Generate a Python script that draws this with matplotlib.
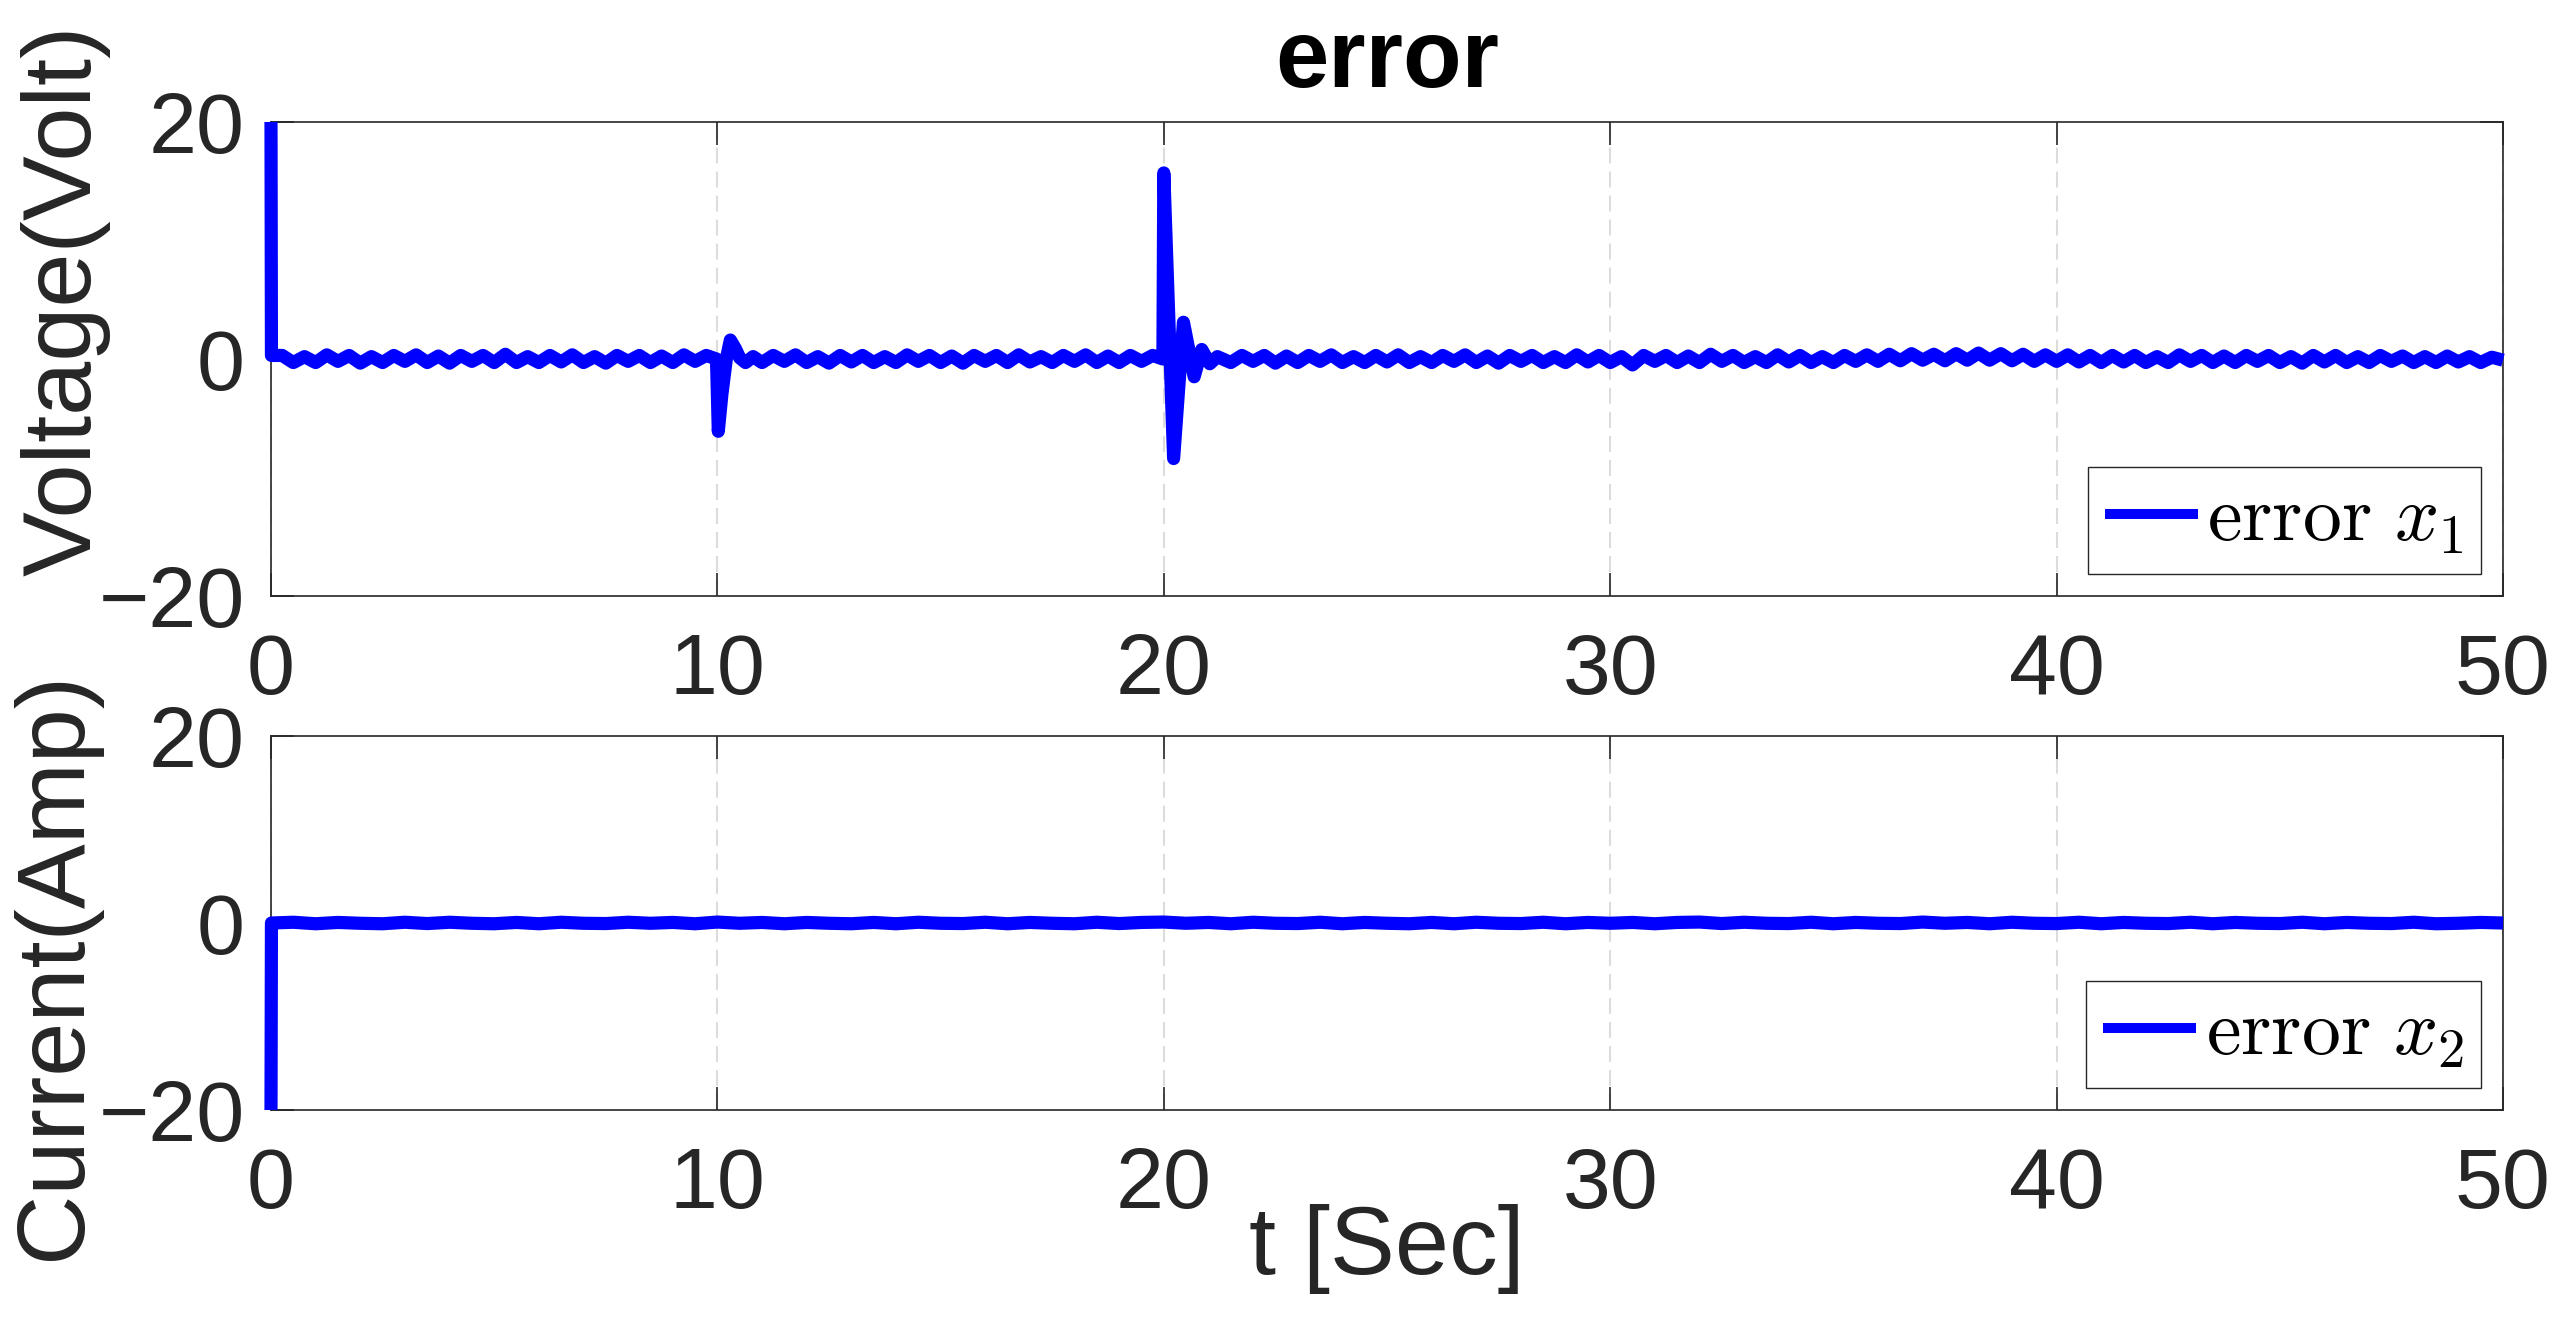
import matplotlib
matplotlib.use("Agg")
import matplotlib.pyplot as plt
import numpy as np

plt.rcParams['font.family'] = ['Liberation Sans', 'DejaVu Sans']
plt.rcParams['mathtext.fontset'] = 'cm'
plt.rcParams['lines.scale_dashes'] = False

# ---------------- data ----------------
# error x1: start transient, baseline noise and the two disturbance spikes
t_start = [0.0, 0.01]
x1_start = [20.0, 0.3]

t_base_a = np.arange(0.25, 9.76, 0.25)          # sample instants 0.25 .. 9.75
x1_base_a = [0.3, -0.3, 0.2, -0.3, 0.35, -0.2, 0.3, -0.35, 0.2, -0.3,
             0.3, -0.2, 0.35, -0.3, 0.25, -0.35, 0.3, -0.2, 0.3, -0.3,
             0.4, -0.3, 0.2, -0.3, 0.3, -0.25, 0.35, -0.3, 0.2, -0.35,
             0.3, -0.2, 0.3, -0.3, 0.25, -0.3, 0.35, -0.2, 0.3]

t_spike10 = [9.98, 10.02, 10.1, 10.2, 10.29, 10.4, 10.5, 10.63, 10.8]
x1_spike10 = [0.0, -6.1, -3.0, 0.0, 1.6, 0.9, 0.1, -0.3, 0.2]

t_base_b = np.arange(11.0, 19.76, 0.25)         # 11.0 .. 19.75
x1_base_b = [-0.3, 0.3, -0.2, 0.35, -0.3, 0.2, -0.35, 0.3, -0.25, 0.3,
             -0.3, 0.2, -0.3, 0.35, -0.2, 0.3, -0.3, 0.25, -0.35, 0.3,
             -0.2, 0.3, -0.3, 0.35, -0.25, 0.2, -0.3, 0.3, -0.2, 0.35,
             -0.3, 0.25, -0.3, 0.3, -0.2, 0.3]

t_spike20 = [19.98, 20.0, 20.22, 20.44, 20.68, 20.85, 21.03, 21.2]
x1_spike20 = [0.0, 15.7, -8.4, 3.1, -1.5, 0.8, -0.4, 0.2]

t_base_c = np.arange(21.5, 50.01, 0.25)         # 21.5 .. 50.0
x1_base_c = [-0.3, 0.3, -0.2, 0.3, -0.35, 0.25, -0.3, 0.3, -0.2, 0.35,
             -0.3, 0.2, -0.3, 0.3, -0.25, 0.35, -0.3, 0.2, -0.3, 0.3,
             -0.2, 0.35, -0.3, 0.25, -0.35, 0.3, -0.2, 0.3, -0.3, 0.2,
             -0.3, 0.35, -0.25, 0.3, -0.3, 0.2, -0.5, 0.3, -0.2, 0.3,
             -0.3, 0.25, -0.3, 0.4, -0.2, 0.3, -0.3, 0.2, -0.3, 0.35,
             -0.25, 0.3, -0.3, 0.2, -0.3, 0.3, -0.2, 0.35, -0.2, 0.4,
             -0.15, 0.45, -0.1, 0.4, -0.15, 0.45, -0.1, 0.5, -0.1, 0.45,
             -0.15, 0.4, -0.2, 0.35, -0.2, 0.35, -0.25, 0.3, -0.3, 0.3,
             -0.25, 0.3, -0.3, 0.2, -0.3, 0.35, -0.2, 0.3, -0.3, 0.25,
             -0.3, 0.3, -0.2, 0.3, -0.3, 0.2, -0.35, 0.3, -0.25, 0.3,
             -0.3, 0.2, -0.3, 0.3, -0.2, 0.25, -0.3, 0.2, -0.3, 0.25,
             -0.25, 0.2, -0.3, 0.15, -0.1]

# error x2: start transient then nearly zero
t_x2 = [0, 0.01, 0.5, 1.0, 1.5, 2.0, 2.5, 3.0, 3.5, 4.0, 4.5, 5.0, 5.5, 6.0, 6.5,
        7.0, 7.5, 8.0, 8.5, 9.0, 9.5, 10.0, 10.5, 11.0, 11.5, 12.0, 12.5, 13.0,
        13.5, 14.0, 14.5, 15.0, 15.5, 16.0, 16.5, 17.0, 17.5, 18.0, 18.5, 19.0,
        19.5, 20.0, 20.5, 21.0, 21.5, 22.0, 22.5, 23.0, 23.5, 24.0, 24.5, 25.0,
        25.5, 26.0, 26.5, 27.0, 27.5, 28.0, 28.5, 29.0, 29.5, 30.0, 30.5, 31.0,
        31.5, 32.0, 32.5, 33.0, 33.5, 34.0, 34.5, 35.0, 35.5, 36.0, 36.5, 37.0,
        37.5, 38.0, 38.5, 39.0, 39.5, 40.0, 40.5, 41.0, 41.5, 42.0, 42.5, 43.0,
        43.5, 44.0, 44.5, 45.0, 45.5, 46.0, 46.5, 47.0, 47.5, 48.0, 48.5, 49.0,
        49.5, 50.0]
x2_err = [-20.0, 0.0, 0.08, -0.08, 0.06, -0.03, -0.08, 0.08, -0.06, 0.08, -0.03, -0.08, 0.06, -0.08, 0.08,
          -0.03, -0.06, 0.08, -0.03, 0.06, -0.08, 0.1, -0.03, 0.06, -0.08, 0.06, -0.03, -0.08,
          0.06, -0.08, 0.08, -0.03, -0.06, 0.08, -0.08, 0.06, -0.03, -0.08, 0.08, -0.06,
          0.06, 0.1, -0.03, 0.06, -0.08, 0.08, -0.03, -0.06, 0.08, -0.08, 0.06, -0.03,
          -0.08, 0.06, -0.08, 0.08, -0.03, -0.06, 0.08, -0.08, 0.06, -0.03, 0.06, -0.08,
          0.06, 0.1, -0.06, 0.08, -0.03, -0.06, 0.08, -0.08, 0.06, -0.03, -0.06, 0.1,
          -0.03, 0.06, -0.08, 0.08, -0.03, -0.06, 0.08, -0.08, 0.06, -0.03, -0.06, 0.08,
          -0.08, 0.06, -0.03, -0.06, 0.08, -0.08, 0.06, -0.03, -0.06, 0.08, -0.08, -0.03,
          0.06, 0.0]

t_x1 = np.concatenate([t_start, t_base_a, t_spike10, t_base_b, t_spike20, t_base_c])
x1_err = np.concatenate([x1_start, x1_base_a, x1_spike10, x1_base_b, x1_spike20, x1_base_c])

x_ticks = [0, 10, 20, 30, 40, 50]
y_ticks = [-20, 0, 20]
title = "error"
xlabel = "t [Sec]"
ylabels = ["Voltage(Volt)", "Current(Amp)"]
legend_labels = [r"$\mathrm{error}\ x_1$", r"$\mathrm{error}\ x_2$"]

# ---------------- figure ----------------
W, H = 2573, 1326
fig = plt.figure(figsize=(W / 100, H / 100), dpi=100)
dark = "#262626"
blue = "#0000ff"

def px_axes(left, top, right, bottom):
    return [left / W, 1 - bottom / H, (right - left) / W, (bottom - top) / H]

ax1 = fig.add_axes(px_axes(271, 122, 2503, 596))
ax2 = fig.add_axes(px_axes(271, 736, 2503, 1110))

for ax, t, y, lab in [(ax1, t_x1, x1_err, legend_labels[0]),
                      (ax2, t_x2, x2_err, legend_labels[1])]:
    ax.plot(t, y, color=blue, lw=9.5, solid_joinstyle='round',
            solid_capstyle='butt', label=lab, zorder=3, clip_on=False)
    ax.set_xlim(0, 50)
    ax.set_ylim(-20, 20)
    ax.set_xticks(x_ticks)
    ax.set_yticks(y_ticks)
    ax.tick_params(axis='both', which='both', direction='in', length=16.5,
                   width=1.2, colors=dark, labelsize=62, top=True, right=True)
    ax.tick_params(axis='x', pad=26)
    ax.tick_params(axis='y', pad=19)
    ax.grid(axis='x', color='#dcdcdc', lw=1.5, dashes=(11.5, 5.8), zorder=1)
    for s in ax.spines.values():
        s.set_color(dark)
        s.set_linewidth(1.2)
    leg = ax.legend(loc='lower right', fontsize=56, handlelength=1.2,
                    handletextpad=0.12, borderpad=0.22, borderaxespad=0.28,
                    fancybox=False, framealpha=1, edgecolor=dark)
    leg.get_frame().set_linewidth(1.0)
    leg.get_lines()[0].set_linewidth(7.2)

fig.text(1387 / W, 1 - 62 / H, title, ha='center', va='center',
         fontsize=69, fontweight='bold', color='black')
fig.text(1387 / W, 1 - 1274 / H, xlabel, ha='center', va='baseline',
         fontsize=70, color=dark)
fig.text(66 / W, 1 - 300 / H, ylabels[0], rotation=90, ha='center',
         va='center', fontsize=70, color=dark)
fig.text(55 / W, 1 - 965 / H, ylabels[1], rotation=90, ha='center',
         va='center', fontsize=70, color=dark)

fig.savefig("out.png", dpi=100, facecolor='white')
